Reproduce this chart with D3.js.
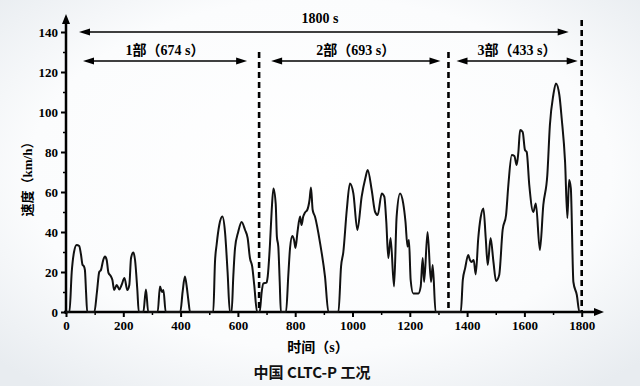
<!DOCTYPE html>
<html>
<head>
<meta charset="utf-8">
<script src="https://cdn.jsdelivr.net/npm/d3@7"></script>
<style>
  body { margin: 0; }
  svg { display: block; }
</style>
</head>
<body>
<svg width="640" height="386"></svg>
<script>
// speed trace (s, km/h)
var time = [0, 12, 20, 28, 37, 46, 52, 58, 62, 66, 70, 74,
  99, 108, 116, 122, 130, 136, 142, 148, 156, 162, 168, 177, 186, 194, 204, 214, 221, 227, 235, 241, 249, 254,
  270, 279, 287, 320, 328, 335, 340, 348, 399, 407, 415, 422, 427, 433,
  514, 520, 526, 535, 546, 555, 564, 572,
  578, 584, 590, 601, 613, 625, 634, 642, 650, 657, 667,
  676, 683, 689, 700, 704, 712, 718, 724, 732, 736, 741, 746, 750,
  768, 776, 782, 790, 796, 801, 808, 817, 822, 828, 834, 842, 850, 855, 861, 869, 887, 904, 916,
  951, 960, 968, 980, 991, 1003, 1017, 1032, 1045, 1053, 1067, 1079, 1088, 1102, 1111, 1118, 1125, 1133, 1145,
  1154, 1166, 1177, 1185, 1192, 1197, 1203, 1212, 1230, 1238, 1245, 1250, 1262, 1274, 1280, 1290,
  1378, 1385, 1393, 1404, 1410, 1416, 1423, 1430, 1439, 1447, 1457, 1465, 1472, 1482, 1492, 1501, 1512,
  1524, 1536, 1544, 1556, 1565, 1573, 1579, 1585, 1594, 1602, 1608, 1617, 1631, 1640, 1654, 1666, 1680,
  1689, 1701, 1710, 1722, 1730, 1742, 1750, 1756, 1762, 1771, 1783, 1792, 1800];
var speed = [0, 0, 20, 30, 33.5, 33, 29, 23.5, 23, 21, 10, 0,
  0, 10, 20, 21, 26, 27.7, 26, 19.7, 18, 16, 11, 13.5, 11.3, 13.5, 17, 11, 13.5, 27, 29.7, 26, 11, 0,
  0, 11.3, 0, 0, 12.7, 10, 11, 0, 0, 10, 17.7, 12, 6, 0,
  0, 25, 34, 43.5, 47.7, 40, 20, 0,
  0, 18, 32, 40, 45, 41, 37, 27, 22.7, 13.5, 0,
  0, 10, 14.3, 14.7, 17.7, 34, 51, 61.8, 54, 37.7, 32.7, 15, 0,
  0, 18.5, 32, 38, 36, 32, 40, 47.7, 43.5, 47.7, 49.7, 51, 56, 62.3, 51, 47.7, 34.3, 17.7, 0,
  0, 22.7, 30, 51, 64.3, 59.3, 41, 57.7, 67, 71, 61, 50, 48.5, 59.3, 57.7, 45, 27, 37, 12.7,
  47.7, 59.3, 54.3, 45, 32.7, 36, 16, 9.3, 9.3, 12.7, 27, 15, 40, 15, 23.5, 0,
  0, 16, 21.8, 28.5, 26, 25, 26, 18.8, 37, 47, 51.8, 37, 23.5, 37, 25, 15.5, 18.5,
  41, 48.5, 63.5, 78.5, 78, 73.5, 80, 91, 90, 81, 80, 63.5, 50, 54.3, 31, 53.5, 68.5,
  93.5, 108.5, 114.3, 108.5, 97, 75, 47, 66, 62, 15, 8.5, 0, 0];

var xTicks = [0, 200, 400, 600, 800, 1000, 1200, 1400, 1600, 1800];
var yTicks = [0, 20, 40, 60, 80, 100, 120, 140];

// phase boundaries as drawn and their labels
var bounds = [0, 674, 1335, 1800];
var partLabels = ['1部（674 s）', '2部（693 s）', '3部（433 s）'];
var totalLabel = '1800 s';

var svg = d3.select('svg');
var serif = '"Liberation Serif", "Noto Sans CJK SC", serif';

var defs = svg.append('defs');
var grad = defs.append('radialGradient').attr('id', 'bg')
  .attr('cx', '50%').attr('cy', '45%').attr('r', '70%');
grad.append('stop').attr('offset', '0%').attr('stop-color', '#ffffff');
grad.append('stop').attr('offset', '65%').attr('stop-color', '#fbfcfd');
grad.append('stop').attr('offset', '100%').attr('stop-color', '#e8ecf0');
svg.append('rect').attr('width', 640).attr('height', 386).attr('fill', 'url(#bg)');

var x = d3.scaleLinear().domain([0, 1800]).range([66, 581.7]);
var y = d3.scaleLinear().domain([0, 140]).range([312, 32]);

// minor ticks
svg.append('g')
  .attr('transform', 'translate(0,312)')
  .call(d3.axisBottom(x).tickValues(d3.range(100, 1800, 200)).tickSize(3).tickFormat(''))
  .call(function(g) { g.select('.domain').remove(); })
  .selectAll('line').attr('stroke-width', 1.5);
svg.append('g')
  .attr('transform', 'translate(66,0)')
  .call(d3.axisLeft(y).tickValues(d3.range(10, 150, 20)).tickSize(3).tickFormat(''))
  .call(function(g) { g.select('.domain').remove(); })
  .selectAll('line').attr('stroke-width', 1.5);

// major ticks + labels
var gx = svg.append('g')
  .attr('transform', 'translate(0,312)')
  .call(d3.axisBottom(x).tickValues(xTicks).tickSize(5).tickPadding(4).tickFormat(d3.format('d')));
gx.select('.domain').remove();
gx.selectAll('line').attr('stroke-width', 2);
gx.selectAll('text').attr('font-family', serif).attr('font-weight', 'bold')
  .attr('font-size', 13).attr('fill', '#000');

var gy = svg.append('g')
  .attr('transform', 'translate(66,0)')
  .call(d3.axisLeft(y).tickValues(yTicks).tickSize(5).tickPadding(3).tickFormat(d3.format('d')));
gy.select('.domain').remove();
gy.selectAll('line').attr('stroke-width', 2);
gy.selectAll('text').attr('font-family', serif).attr('font-weight', 'bold')
  .attr('font-size', 13).attr('fill', '#000');

// axis lines with arrows
svg.append('line').attr('x1', 64).attr('x2', 596).attr('y1', 312).attr('y2', 312)
  .attr('stroke', '#000').attr('stroke-width', 2.5);
svg.append('path').attr('d', 'M604,312 L594,308 L594,316 Z').attr('fill', '#000');
svg.append('line').attr('x1', 66).attr('x2', 66).attr('y1', 314).attr('y2', 22)
  .attr('stroke', '#000').attr('stroke-width', 2.5);
svg.append('path').attr('d', 'M66,14 L62,24 L70,24 Z').attr('fill', '#000');

// speed curve
var pts = time.map(function(t, i) { return [t, speed[i]]; });
svg.append('path')
  .datum(pts)
  .attr('fill', 'none')
  .attr('stroke', '#111')
  .attr('stroke-width', 2)
  .attr('stroke-linejoin', 'round')
  .attr('d', d3.line()
    .x(function(d) { return x(d[0]); })
    .y(function(d) { return y(d[1]); })
    .curve(d3.curveMonotoneX));

// dashed phase dividers
bounds.slice(1).forEach(function(b, i) {
  var top = i === 2 ? 146 : 130;
  svg.append('line')
    .attr('x1', x(b)).attr('x2', x(b))
    .attr('y1', y(top)).attr('y2', 312)
    .attr('stroke', '#000').attr('stroke-width', 2.6)
    .attr('stroke-dasharray', '6,4');
});

function arrow(x1, x2, yy) {
  svg.append('line').attr('x1', x1 + 6).attr('x2', x2 - 6).attr('y1', yy).attr('y2', yy)
    .attr('stroke', '#000').attr('stroke-width', 1.4);
  svg.append('path').attr('fill', '#000')
    .attr('d', 'M' + x1 + ',' + yy + 'L' + (x1 + 11) + ',' + (yy - 3.5) + 'L' + (x1 + 11) + ',' + (yy + 3.5) + 'Z');
  svg.append('path').attr('fill', '#000')
    .attr('d', 'M' + x2 + ',' + yy + 'L' + (x2 - 11) + ',' + (yy - 3.5) + 'L' + (x2 - 11) + ',' + (yy + 3.5) + 'Z');
}

// total span
arrow(x(0) + 13, x(1800) - 13, y(140));
svg.append('text').attr('x', 320).attr('y', y(140) - 9)
  .attr('text-anchor', 'middle').attr('font-family', serif).attr('font-weight', 'bold')
  .attr('font-size', 14).text(totalLabel);

// phase spans
var insets = [[17, 12], [12, 8], [8, 4]];
partLabels.forEach(function(lab, i) {
  var a = x(bounds[i]) + insets[i][0], b = x(bounds[i + 1]) - insets[i][1];
  arrow(a, b, y(125.5));
  svg.append('text').attr('x', (a + b) / 2).attr('y', y(125.5) - 6)
    .attr('text-anchor', 'middle').attr('font-family', serif).attr('font-weight', 'bold')
    .attr('font-size', 14).text(lab);
});

// axis titles
svg.append('text').attr('transform', 'translate(32,176) rotate(-90)')
  .attr('text-anchor', 'middle').attr('font-family', serif).attr('font-weight', 'bold')
  .attr('font-size', 13).attr('fill', '#000').text('速度（km/h）');
svg.append('text').attr('x', 318).attr('y', 352)
  .attr('text-anchor', 'middle').attr('font-family', serif).attr('font-weight', 'bold')
  .attr('font-size', 14).text('时间（s）');

svg.append('text').attr('x', 312).attr('y', 378)
  .attr('text-anchor', 'middle').attr('font-family', '"Noto Sans CJK SC", sans-serif')
  .attr('font-weight', 'bold').attr('font-size', 15).attr('fill', '#111')
  .text('中国 CLTC-P 工况');
</script>
</body>
</html>
